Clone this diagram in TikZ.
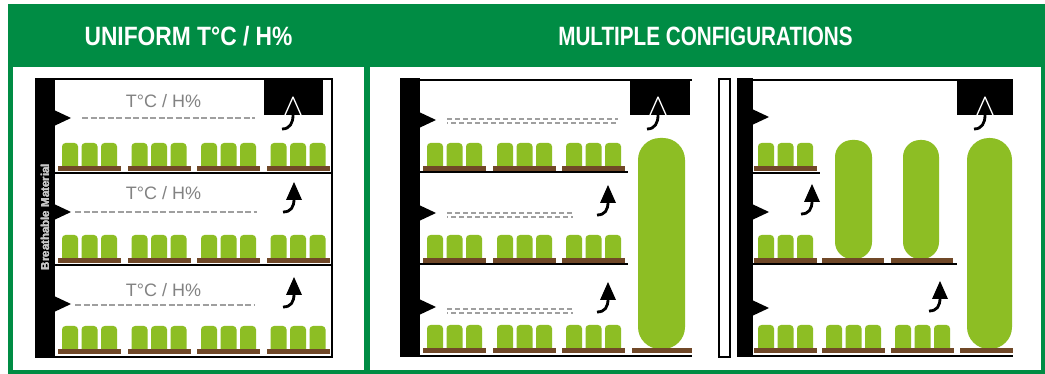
\documentclass[tikz,border=0pt]{standalone}
\usepackage{fontspec}
\setmainfont{Liberation Sans}
\usepackage{tikz}

\definecolor{headgreen}{RGB}{0,140,68}
\definecolor{potgreen}{RGB}{141,190,36}
\definecolor{traybrown}{RGB}{112,72,40}
\definecolor{labelgray}{RGB}{130,130,130}

\tikzset{
  pot/.style={fill=potgreen, rounded corners=3.5pt},
  tray/.style={fill=traybrown},
  wall/.style={line width=2pt},
  shelf/.style={line width=2.5pt},
  tail/.style={line width=2.8pt},
  dashline/.style={gray!75, line width=1.2pt, dash pattern=on 6pt off 2.5pt},
  heading/.style={text=white, font=\bfseries\fontsize{26.5}{26.5}\selectfont, inner sep=0pt},
  tclabel/.style={text=labelgray, font=\fontsize{18}{18}\selectfont, inner sep=0pt},
}

% three pots on one tray: #1 = left of tray, #2 = bottom of tray
\newcommand{\potset}[2]{%
  \foreach \k in {0,1,2}
    \fill[pot] ({#1+4+19.5*\k},{#2-1}) rectangle ++(16,-27);
  \fill[tray] (#1,#2) rectangle ++(63,-5);
}
% inlet notch on the breathable wall
\newcommand{\vent}[2]{\fill ({#1},{#2-8}) -- ({#1+17},{#2}) -- ({#1},{#2+8}) -- cycle;}
% rising air, #1 = x of tip, #2 = y of triangle base
\newcommand{\airup}[2]{%
  \draw[tail] ({#1-11},{#2+12}) .. controls ({#1-3},{#2+12}) and ({#1},{#2+7}) .. ({#1},{#2-1});
  \fill ({#1-8},{#2}) -- ({#1},{#2-18}) -- ({#1+8},{#2}) -- cycle;
}
% air leaving through the extractor box
\newcommand{\airout}[2]{%
  \draw[tail] ({#1-11},{#2+14}) .. controls ({#1-3},{#2+14}) and ({#1},{#2+8}) .. ({#1},{#2});
  \draw[white, line width=1.3pt, line join=round] ({#1-8},{#2}) -- ({#1},{#2-18}) -- ({#1+8},{#2});
}

\begin{document}
\begin{tikzpicture}[x=1pt, y=-1pt]
\useasboundingbox (0,0) rectangle (1045,374);
\fill[white] (0,0) rectangle (1045,374);

% Frames and headings
\fill[headgreen] (8,4) rectangle (1045,374);
\fill[white] (13,67) rectangle (364,370);
\fill[white] (370,67) rectangle (1041,370);
\node[heading, anchor=base] (hdleft) at (188.5,46) {\scalebox{0.86}[1]{UNIFORM T°C / H\%}};
\node[heading, anchor=base] (hdright) at (705.5,46) {\scalebox{0.78}[1]{MULTIPLE CONFIGURATIONS}};

% Uniform room
\foreach \row in {171,263,354} \foreach \gx in {58,127.5,197,266.5} \potset{\gx}{\row}
\draw[shelf] (55,173) -- (332,173);
\draw[shelf] (55,265) -- (332,265);
\draw[wall] (55,79) -- (332,79) -- (332,357) -- (35,357);
\fill (35,78) rectangle (55,358);
\foreach \y in {118,212,304} \vent{54}{\y}
\node[rotate=90, text=gray!45, font=\bfseries\fontsize{11.5}{11.5}\selectfont] (matlabel) at (45,217) {Breathable Material};
\foreach \y/\n in {107.5/tcone, 199.5/tctwo, 297/tcthree}
  \node[tclabel, anchor=base] (\n) at (163.5,\y) {T°C / H\%};
\draw[dashline] (82,118) -- (255,118);
\draw[dashline] (75,212) -- (257,212);
\draw[dashline] (75,305) -- (255,305);
\fill (264,80) rectangle (323,115);
\airout{293}{115}
\airup{294}{200}
\airup{294}{295}

% Configuration A
\fill[potgreen, rounded corners=22pt] (638,138) rectangle (685,349);
\fill[tray] (632,348) rectangle (692,353);
\foreach \row in {171,263,353} \foreach \gx in {423,493,562} \potset{\gx}{\row}
\draw[shelf] (420,172) -- (628,172);
\draw[shelf] (420,264) -- (628,264);
\draw[wall] (420,80) -- (692,80);
\draw[wall] (420,356) -- (692,356);
\fill (400,78) rectangle (420,357);
\foreach \y in {120,213,307} \vent{419}{\y}
\foreach \y/\xe in {119/618, 213/573, 309/573} {
  \draw[dashline, dash pattern=on 5pt off 3pt] (447,\y) -- (\xe,\y);
  \draw[dashline, dash pattern=on 5pt off 3pt, dash phase=4pt] (447,\y+4) -- (\xe,\y+4);
}
\fill (630,80) rectangle (690,115);
\airout{658}{115}
\airup{608}{203}
\airup{608}{300}

% Configuration B
\draw[line width=1.5pt] (719,79) rectangle (730,357);
\fill[potgreen, rounded corners=17pt] (835,140) rectangle (872,259);
\fill[potgreen, rounded corners=17pt] (903,140) rectangle (939,259);
\fill[potgreen, rounded corners=22pt] (967,138) rectangle (1012,349);
\fill[tray] (822,258) rectangle (884,263);
\fill[tray] (891,258) rectangle (953,263);
\fill[tray] (960,348) rectangle (1013,353);
\potset{754}{171}
\potset{754}{263}
\foreach \gx in {754,822,891} \potset{\gx}{353}
\draw[shelf] (753,173) -- (820,173);
\draw[shelf] (753,264) -- (957,264);
\draw[wall] (753,80) -- (1013,80);
\draw[wall] (753,356) -- (1013,356);
\fill (737,78) rectangle (753,357);
\foreach \y in {117,212,308} \vent{752}{\y}
\fill (957,80) rectangle (1013,115);
\airout{985}{115}
\airup{812}{202}
\airup{940}{299}
\end{tikzpicture}
\end{document}
